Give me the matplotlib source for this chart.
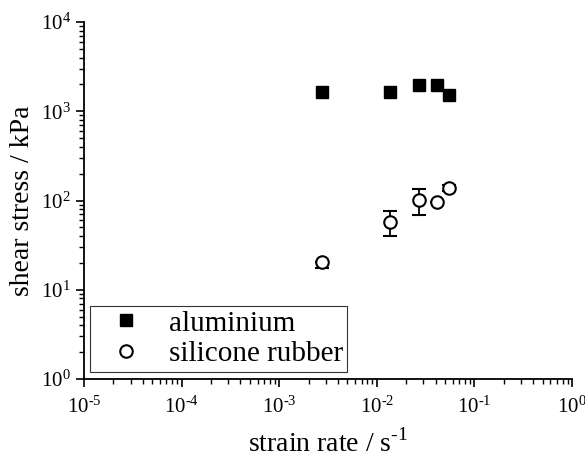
import matplotlib
matplotlib.use('Agg')
from matplotlib import pyplot as plt
from matplotlib.lines import Line2D
from matplotlib.ticker import LogLocator, NullFormatter, FuncFormatter
import numpy as np

plt.rcParams['font.family'] = ['Liberation Serif', 'DejaVu Serif']
plt.rcParams['mathtext.fontset'] = 'custom'
plt.rcParams['mathtext.rm'] = 'Liberation Serif'

# data
strain_rate = [0.00276, 0.0137, 0.027, 0.0414, 0.055]
alu_stress = [1630, 1630, 1970, 1970, 1515]
rubber_stress = [20.6, 58, 101, 97, 139]
rubber_err_low = [3, 18, 32, 0, 10]
rubber_err_high = [0, 18, 32, 0, 10]

fig = plt.figure(figsize=(5.85, 4.63), dpi=100)
ax = fig.add_axes([84 / 585, 1 - 379 / 463, (572 - 84) / 585, (379 - 22) / 463])

ax.plot(strain_rate, alu_stress, 's', color='black', markersize=9, zorder=3)
ax.errorbar(strain_rate, rubber_stress, yerr=[rubber_err_low, rubber_err_high], fmt='o',
            mfc='white', mec='black', mew=1.5, markersize=9, ecolor='black',
            elinewidth=1.3, capsize=5, capthick=1.3, zorder=3)

ax.set_xscale('log')
ax.set_yscale('log')
ax.set_xlim(1e-5, 1)
ax.set_ylim(1, 1e4)

for s in ['top', 'right']:
    ax.spines[s].set_visible(False)
for s in ['left', 'bottom']:
    ax.spines[s].set_linewidth(1.3)


def pow_label(v, pos):
    e = int(round(np.log10(v)))
    return r'$\mathregular{10^{\text{%d}}}$' % e


ax.xaxis.set_major_locator(LogLocator(base=10, numticks=10))
ax.yaxis.set_major_locator(LogLocator(base=10, numticks=10))
ax.xaxis.set_minor_locator(LogLocator(base=10, subs=range(2, 10), numticks=10))
ax.yaxis.set_minor_locator(LogLocator(base=10, subs=range(2, 10), numticks=10))
ax.xaxis.set_major_formatter(FuncFormatter(pow_label))
ax.yaxis.set_major_formatter(FuncFormatter(pow_label))
ax.xaxis.set_minor_formatter(NullFormatter())
ax.yaxis.set_minor_formatter(NullFormatter())
ax.tick_params(which='major', direction='out', length=6, width=1.2, labelsize=15)
ax.tick_params(which='minor', direction='out', length=3.5, width=1.0)
ax.tick_params(axis='x', pad=7)

ax.set_xlabel('strain rate / s$^{\\text{-1}}$', fontsize=20, labelpad=8)
ax.set_ylabel('shear stress / kPa', fontsize=20, labelpad=4)

handles = [
    Line2D([], [], ls='none', marker='s', color='black', markersize=9),
    Line2D([], [], ls='none', marker='o', mfc='white', mec='black', mew=1.5, markersize=9),
]
leg = ax.legend(handles, ['aluminium', 'silicone rubber'], loc='lower left',
                bbox_to_anchor=(0.012, 0.02), fontsize=21, frameon=True,
                fancybox=False, edgecolor='black', handletextpad=0.35, borderpad=0.15,
                labelspacing=0.15, borderaxespad=0.0, handlelength=2.2)
leg.get_frame().set_linewidth(0.8)

fig.savefig('out.png', dpi=100)
